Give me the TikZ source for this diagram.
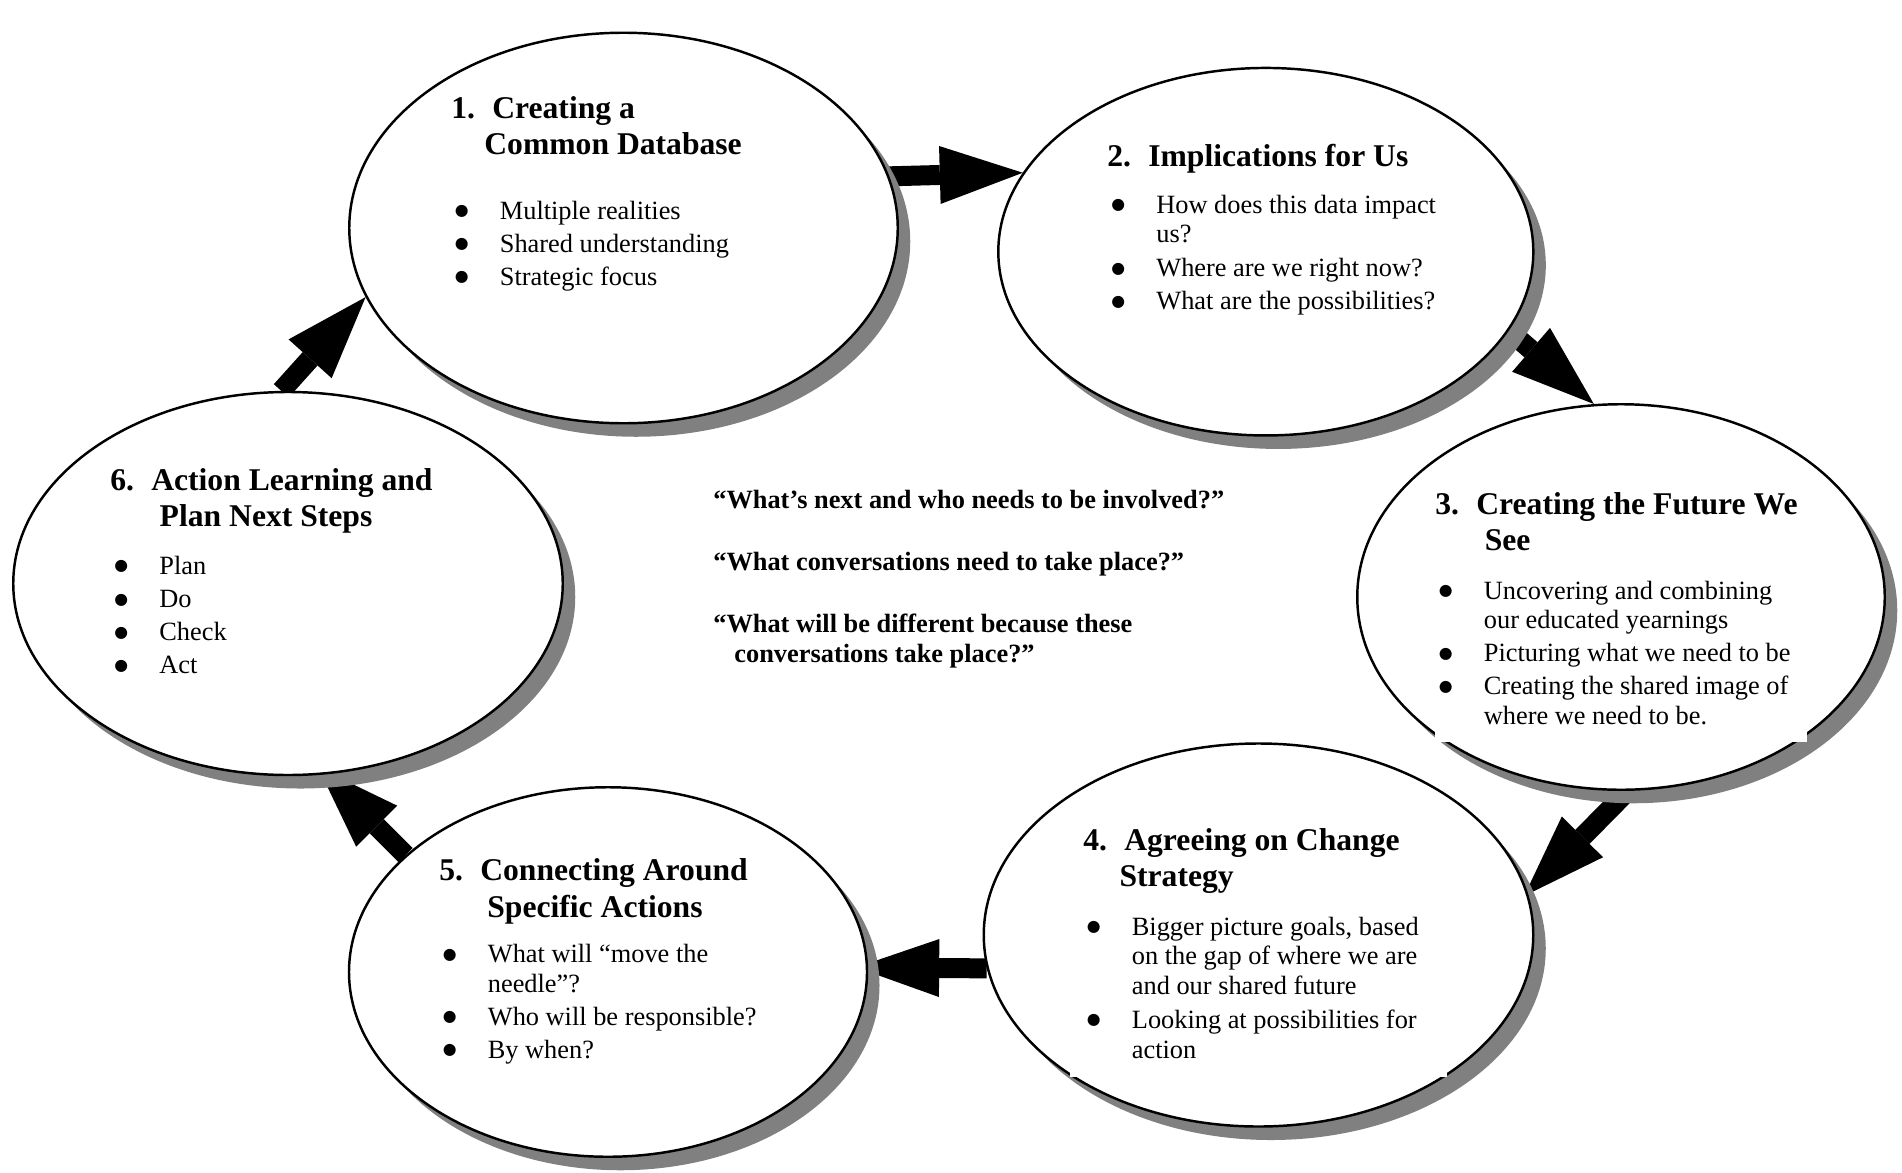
\documentclass[tikz,border=0pt]{standalone}
\usepackage{fontspec}
\setmainfont{Liberation Serif}
\newfontfamily\bulletfont{DejaVu Sans}
\usepackage{tikz}
\usetikzlibrary{positioning, shapes.geometric, arrows.meta, shadows, backgrounds}

\newcommand{\stagebullet}{\hspace*{-1.4pt}\raisebox{2pt}{\bulletfont\fontsize{9}{9}\selectfont ●}}

\tikzset{
  stage/.style={ellipse, draw, line width=1.4pt, fill=white, inner sep=0pt,
    drop shadow={opacity=1, fill=black!50, shadow xshift=2.5mm, shadow yshift=-2.7mm}},
  stagehead/.style={anchor=base west, inner sep=0pt, font=\fontsize{18}{21}\selectfont\bfseries},
  stagelist/.style={anchor=base west, inner sep=0pt, font=\fontsize{15}{16.9}\selectfont},
  question/.style={anchor=base west, inner sep=0pt, font=\fontsize{15}{17.1}\selectfont\bfseries},
  bigarrow/.style={line width=4mm, -{Triangle[length=16.6mm, width=11.6mm, line width=0pt]}}
}

\begin{document}
\begin{tikzpicture}[x=0.2mm, y=-0.2mm]
  \useasboundingbox (0,0) rectangle (1902,1172);

  % the six stages of the cycle
  \node[stage, minimum width=109.7mm, minimum height=78.1mm] (e1) at (623.5,228) {};
  \node[stage, minimum width=107mm, minimum height=73.5mm] (e2) at (1265.8,251.7) {};
  \node[stage, minimum width=105.5mm, minimum height=77.1mm] (e3) at (1621,597) {};
  \node[stage, minimum width=109.9mm, minimum height=76.6mm] (e4) at (1258.5,935) {};
  \node[stage, minimum width=103.6mm, minimum height=73.9mm] (e5) at (608,972) {};
  \node[stage, minimum width=109.9mm, minimum height=76.6mm] (e6) at (288,583.5) {};

  % white text boxes of stages 3 and 4, they nick the outline
  \fill[white] (1435,470) rectangle (1807,742);
  \fill[white] (1070,800) rectangle (1447,1077);

  \node[stagehead] (h1) at (451,118) {\begin{tabular}[t]{@{}p{23.3pt}@{}l@{}}
    1. & Creating a\\ & \hspace*{-4.5pt}Common Database\end{tabular}};
  \node[stagelist] (l1) at (457,219) {\begin{tabular}[t]{@{}p{24.2pt}@{}l@{}}
    \stagebullet & Multiple realities\\[1.9pt]
    \stagebullet & Shared understanding\\[1.9pt]
    \stagebullet & Strategic focus\end{tabular}};

  \node[stagehead] (h2) at (1107,166) {\begin{tabular}[t]{@{}p{23.3pt}@{}l@{}}
    2. & Implications for Us\end{tabular}};
  \node[stagelist] (l2) at (1113.5,213) {\begin{tabular}[t]{@{}p{24.2pt}@{}l@{}}
    \stagebullet & How does this data impact\\ & us?\\[2.4pt]
    \stagebullet & Where are we right now?\\[1.9pt]
    \stagebullet & What are the possibilities?\end{tabular}};

  \node[stagehead] (h3) at (1435,514) {\begin{tabular}[t]{@{}p{23.3pt}@{}l@{}}
    3. & Creating the Future We\\ & \hspace*{4.8pt}See\end{tabular}};
  \node[stagelist] (l3) at (1441,599) {\begin{tabular}[t]{@{}p{24.2pt}@{}l@{}}
    \stagebullet & Uncovering and combining\\ & our educated yearnings\\[1.9pt]
    \stagebullet & Picturing what we need to be\\[1.9pt]
    \stagebullet & Creating the shared image of\\ & where we need to be.\end{tabular}};

  \node[stagehead] (h4) at (1083,850) {\begin{tabular}[t]{@{}p{23.3pt}@{}l@{}}
    4. & Agreeing on Change\\ & \hspace*{-2.7pt}Strategy\end{tabular}};
  \node[stagelist] (l4) at (1089,935) {\begin{tabular}[t]{@{}p{24.2pt}@{}l@{}}
    \stagebullet & Bigger picture goals, based\\ & on the gap of where we are\\ & and our shared future\\[2.4pt]
    \stagebullet & Looking at possibilities for\\ & action\end{tabular}};

  \node[stagehead] (h5) at (439,880.6) {\begin{tabular}[t]{@{}p{23.3pt}@{}l@{}}
    5. & Connecting Around\\ & \hspace*{4pt}Specific Actions\end{tabular}};
  \node[stagelist] (l5) at (445,962.6) {\begin{tabular}[t]{@{}p{24.2pt}@{}l@{}}
    \stagebullet & What will “move the\\ & needle”?\\[1.9pt]
    \stagebullet & Who will be responsible?\\[1.9pt]
    \stagebullet & By when?\end{tabular}};

  \node[stagehead] (h6) at (110,490) {\begin{tabular}[t]{@{}p{23.3pt}@{}l@{}}
    6. & Action Learning and\\ & \hspace*{4.8pt}Plan Next Steps\end{tabular}};
  \node[stagelist] (l6) at (116.5,574.5) {\begin{tabular}[t]{@{}p{24.2pt}@{}l@{}}
    \stagebullet & Plan\\[1.9pt]
    \stagebullet & Do\\[1.9pt]
    \stagebullet & Check\\[1.9pt]
    \stagebullet & Act\end{tabular}};

  % questions in the middle
  \node[question] (q) at (713,508) {\begin{tabular}[t]{@{}l@{}}
    “What’s next and who needs to be involved?”\\[18.2pt]
    “What conversations need to take place?”\\[18.2pt]
    “What will be different because these\\
    \hspace*{12pt}conversations take place?”\end{tabular}};

  % block arrows, kept behind the ellipses
  \begin{scope}[on background layer]
    \draw[bigarrow] (e1.11) -- (e2.162);
    \draw[bigarrow] (e2.-18) -- (e3.98);
    \draw[bigarrow, shorten >=-1mm] (e3.-88) -- (e4.9);
    \draw[bigarrow, shorten >=-2.4mm] (e4.187) -- (e5.1);
    \draw[bigarrow, shorten >=-2mm] (e5.150) -- (e6.-79);
    \draw[bigarrow] (e6.92) -- (e1.195);
  \end{scope}
\end{tikzpicture}
\end{document}
